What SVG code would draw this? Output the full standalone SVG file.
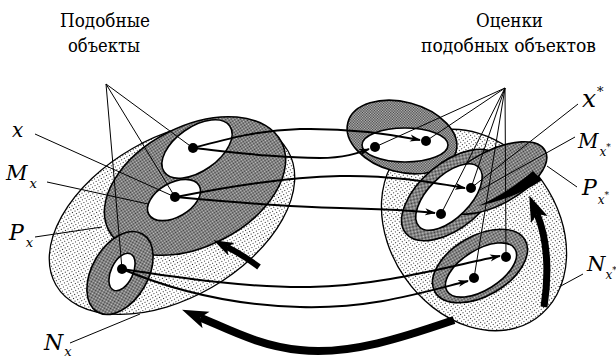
<svg xmlns="http://www.w3.org/2000/svg" width="616" height="359" viewBox="0 0 616 359">
<defs>
<pattern id="light" width="3" height="3" patternUnits="userSpaceOnUse"><rect width="3" height="3" fill="#fff"/><rect x="1" y="1" width="1" height="1" fill="#222"/></pattern>
<pattern id="dark" width="2" height="2" patternUnits="userSpaceOnUse"><rect width="2" height="2" fill="#c8c8c8"/><rect width="1" height="1" fill="#3a3a3a"/><rect x="1" y="1" width="1" height="1" fill="#3a3a3a"/></pattern>
<marker id="ah" markerWidth="12" markerHeight="8" refX="10" refY="4" orient="auto" markerUnits="userSpaceOnUse"><path d="M0,0.5 L11,4 L0,7.5 L3,4 z" fill="#000"/></marker>
<marker id="bh" markerWidth="26" markerHeight="20" refX="6" refY="10" orient="auto" markerUnits="userSpaceOnUse"><path d="M0,1 L26,10 L0,19 L6,10 z" fill="#000"/></marker>
<marker id="bh2" markerWidth="20" markerHeight="16" refX="5" refY="8" orient="auto" markerUnits="userSpaceOnUse"><path d="M0,1 L20,8 L0,15 L5,8 z" fill="#000"/></marker>
</defs>
<style>
.lt{fill:url(#light);stroke:#000;stroke-width:1.3}
.dk{fill:url(#dark);stroke:#000;stroke-width:1.6}
.wh{fill:#fff;stroke:#000;stroke-width:1.6}
.dot{fill:#000}
.ln{fill:none;stroke:#000;stroke-width:1}
.cv{fill:none;stroke:#000;stroke-width:2;marker-end:url(#ah)}
.thick{fill:none;stroke:#000;stroke-linecap:butt}
.ser{font-family:'DejaVu Serif','Liberation Serif',serif}
</style>
<rect width="616" height="359" fill="#fff"/>

<g id="left-cluster">
<g id="P-x"><ellipse class="lt" cx="172" cy="218" rx="134" ry="80" transform="rotate(-30 172 218)"/></g>
<g id="M-x"><ellipse class="dk" cx="195" cy="186" rx="97" ry="60" transform="rotate(-27 195 186)"/></g>
<g id="x-obj"><ellipse class="wh" cx="197" cy="149" rx="40" ry="22" transform="rotate(-35 197 149)"/><circle class="dot" cx="193" cy="148" r="5"/></g>
<g id="m-obj"><ellipse class="wh" cx="174" cy="200" rx="29" ry="17" transform="rotate(-30 174 200)"/><circle class="dot" cx="175" cy="197" r="5"/></g>
<g id="N-x"><ellipse class="dk" cx="120" cy="273" rx="45" ry="28" transform="rotate(-60 120 273)"/><ellipse class="wh" cx="122" cy="272" rx="20" ry="11" transform="rotate(-65 122 272)"/><circle class="dot" cx="122" cy="269" r="5"/></g>
</g>

<g id="right-cluster">
<g id="N-xs-big"><ellipse class="lt" cx="474" cy="230" rx="108" ry="84" transform="rotate(55 474 230)"/></g>
<g id="xs-obj"><ellipse class="dk" cx="402" cy="137" rx="56" ry="35" transform="rotate(15 402 137)"/><ellipse class="wh" cx="405" cy="145" rx="43" ry="17"/><circle class="dot" cx="375" cy="147" r="5"/><circle class="dot" cx="426" cy="141" r="5"/></g>
<g id="M-xs"><ellipse class="dk" cx="452" cy="195" rx="60" ry="32" transform="rotate(-40 452 195)"/></g>
<g id="P-xs"><ellipse class="dk" cx="494" cy="178" rx="58" ry="27" transform="rotate(-28 494 178)"/></g>
<g id="m-xs-obj"><ellipse class="wh" cx="449" cy="197" rx="42" ry="21" transform="rotate(-45 449 197)"/><circle class="dot" cx="471" cy="188" r="5"/><circle class="dot" cx="441" cy="214" r="5"/></g>
<g id="N-xs"><ellipse class="dk" cx="480" cy="266" rx="52" ry="30" transform="rotate(-30 480 266)"/><ellipse class="wh" cx="481" cy="270" rx="40" ry="20" transform="rotate(-32 481 270)"/><circle class="dot" cx="506" cy="257" r="5"/><circle class="dot" cx="474" cy="278" r="5"/></g>
</g>

<g id="connectors">
<path class="ln" d="M106,84 L193,148 M106,84 L175,197 M106,84 L122,269"/>
<path class="ln" d="M505,88 L375,147 M505,88 L426,141 M505,88 L471,188 M505,88 L441,214 M505,88 L506,257 M505,88 L474,278"/>
<path class="ln" d="M35,134 L175,197 M47,182 L148,204 M35,237 L102,227 M70,343 L140,314"/>
<path class="ln" d="M578,104 L471,188 M575,137 L480,190 M577,187 L547,166 M583,274 L559,287"/>
<path class="cv" d="M193,148 C230,138 260,130 300,129 C350,128 390,134 420,140"/>
<path class="cv" d="M193,148 C240,153 280,158 320,158 C345,158 358,153 369,149"/>
<path class="cv" d="M176,197 C230,186 290,177 340,176 C390,175 430,182 465,188"/>
<path class="cv" d="M176,197 C230,202 290,207 340,208 C380,209 410,210 435,213"/>
<path class="cv" d="M122,269 C180,278 250,288 310,287 C380,286 450,266 500,256"/>
<path class="cv" d="M122,269 C160,285 220,305 300,307 C370,309 420,293 468,281"/>
<path class="thick" stroke-width="8" marker-end="url(#bh)" d="M454,320 C410,335 350,356 300,350 C260,346 230,330 200.5,317.6"/>
<path class="thick" stroke-width="6" marker-end="url(#bh2)" d="M259,267 Q243,255 227,247"/>
<path class="thick" stroke-width="7" marker-end="url(#bh)" d="M544,307 C549,275 548,240 537,214"/>
<path fill="#000" d="M533,171 L542,180 C525,192 505,200 478,206 C500,196 518,184 533,171 Z"/>
</g>

<g id="labels" fill="#000" class="ser">
<g font-size="18">
<text x="60" y="27" textLength="90" lengthAdjust="spacingAndGlyphs">Подобные</text>
<text x="68" y="52" textLength="72" lengthAdjust="spacingAndGlyphs">объекты</text>
<text x="476" y="27" textLength="67" lengthAdjust="spacingAndGlyphs">Оценки</text>
<text x="421" y="52" textLength="175" lengthAdjust="spacingAndGlyphs">подобных объектов</text>
</g>
<g font-style="italic">
<text x="12" y="137" font-size="20">x</text>
<text x="6" y="180" font-size="21">M<tspan font-size="13" dx="2" dy="8">x</tspan></text>
<text x="9" y="240" font-size="22">P<tspan font-size="13" dx="2" dy="7">x</tspan></text>
<text x="44" y="350" font-size="22">N<tspan font-size="13" dx="1" dy="6">x</tspan></text>
<text x="582" y="107" font-size="25">x<tspan font-size="13" dx="1" dy="-11">*</tspan></text>
<text x="578" y="148" font-size="20">M<tspan font-size="12" dx="1" dy="8">x</tspan><tspan font-size="9" dy="-6">*</tspan></text>
<text x="582" y="195" font-size="22">P<tspan font-size="12" dx="1" dy="9">x</tspan><tspan font-size="9" dy="-6">*</tspan></text>
<text x="587" y="271" font-size="21">N<tspan font-size="12" dx="0" dy="8">x</tspan><tspan font-size="9" dy="-6">*</tspan></text>
</g>
</g>
</svg>
